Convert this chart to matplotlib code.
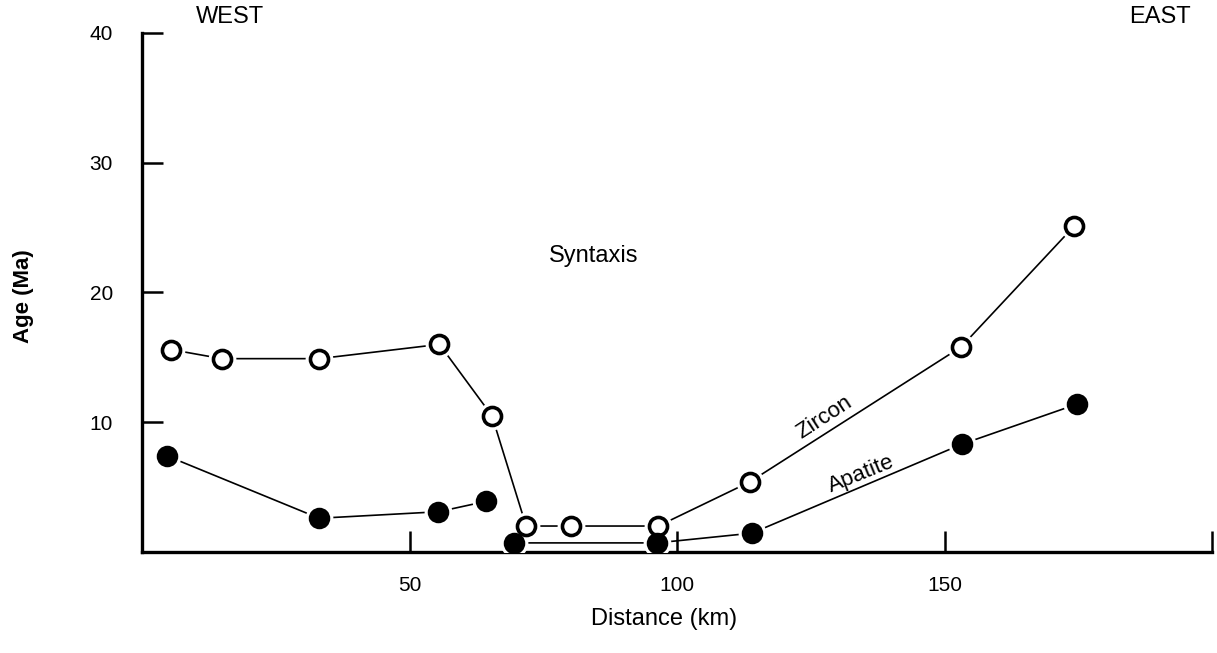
import numpy as np
import matplotlib.pyplot as plt

plt.rcParams['font.family'] = ['Liberation Sans', 'DejaVu Sans']

# Zircon ages (open circles)
zircon_km = [5.4, 14.9, 33.1, 55.6, 65.4, 71.8, 80.1, 96.5, 113.6, 153.1, 174.2]
zircon_age = [15.6, 14.9, 14.9, 16.0, 10.5, 2.0, 2.0, 2.0, 5.4, 15.8, 25.1]

# Apatite ages (filled circles), two connected segments
apatite_west_km = [4.7, 33.1, 55.4, 64.3]
apatite_west_age = [7.4, 2.6, 3.1, 3.9]
apatite_east_km = [69.6, 96.2, 114.0, 153.2, 174.8]
apatite_east_age = [0.7, 0.7, 1.45, 8.3, 11.4]

x_ticks = [50, 100, 150, 200]
x_tick_labels = ['50', '100', '150', '']
y_ticks = [10, 20, 30, 40]

fig = plt.figure(figsize=(12.17, 6.53), dpi=100)
ax = fig.add_axes([0.1167, 0.1547, 0.8792, 0.7948])

def draw_series(xs, ys, filled):
    ax.plot(xs, ys, color='black', lw=1.2, zorder=2)
    # white halo gives the small gap between line and marker
    ax.plot(xs, ys, 'o', ms=20, mfc='white', mec='none', zorder=3)
    if filled:
        ax.plot(xs, ys, 'o', ms=14, mfc='black', mec='black', mew=1.5, zorder=4)
    else:
        ax.plot(xs, ys, 'o', ms=13, mfc='white', mec='black', mew=2.6, zorder=4)

draw_series(zircon_km, zircon_age, False)
draw_series(apatite_west_km, apatite_west_age, True)
draw_series(apatite_east_km, apatite_east_age, True)

ax.set_xlim(0, 200)
ax.set_ylim(0, 40)
ax.set_xticks(x_ticks)
ax.set_xticklabels(x_tick_labels)
ax.set_yticks(y_ticks)

for s in ['top', 'right']:
    ax.spines[s].set_visible(False)
for s in ['left', 'bottom']:
    ax.spines[s].set_linewidth(2.4)

ax.tick_params(axis='both', direction='in', length=15, width=1.8, labelsize=15)
ax.tick_params(axis='x', pad=17)
ax.tick_params(axis='y', pad=21)

ax.set_xlabel('Distance (km)', fontsize=17, va='center')
ax.xaxis.set_label_coords(0.488, -0.129)
ax.set_ylabel('Age (Ma)', fontsize=16, fontweight='bold', va='center')
ax.yaxis.set_label_coords(-0.111, 0.493)

ax.text(16.5, 41.2, 'WEST', fontsize=17, ha='center', va='center', clip_on=False)
ax.text(190.3, 41.2, 'EAST', fontsize=17, ha='center', va='center', clip_on=False)
ax.text(84.4, 22.8, 'Syntaxis', fontsize=17, ha='center', va='center')
ax.text(127.6, 10.4, 'Zircon', fontsize=16, ha='center', va='center', rotation=33)
ax.text(134.5, 6.0, 'Apatite', fontsize=16, ha='center', va='center', rotation=22)

fig.savefig('out.png', dpi=100)
